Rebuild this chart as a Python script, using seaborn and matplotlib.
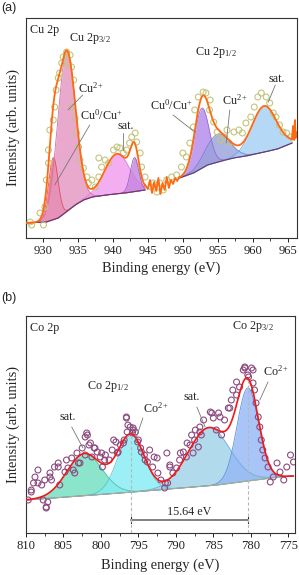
import numpy as np
import pandas as pd
import matplotlib
matplotlib.use("Agg")
import matplotlib.pyplot as plt
import seaborn as sns

# ---------------- data: panel (a) Cu 2p ----------------
cu_pts_x = [928.2, 928.4, 929.6, 930.1, 930.3, 930.5, 930.8, 930.8, 931.0, 931.5, 931.7, 931.9,
            932.2, 932.4, 932.7, 932.9, 933.4, 933.6, 933.9, 934.1, 934.1, 934.4, 934.6, 934.8,
            935.1, 935.3, 935.8, 936.3, 936.5, 937.0, 937.5, 938.0, 938.0, 938.4, 938.9, 939.4,
            940.1, 940.6, 941.0, 941.5, 942.0, 942.4, 942.7, 943.2, 943.4, 943.9, 944.1, 944.6,
            945.5, 945.8, 946.3, 946.7, 947.2, 947.7, 948.4, 949.1, 949.8, 950.0, 950.5, 951.0,
            951.5, 951.7, 952.2, 952.9, 953.3, 953.8, 953.9, 954.4, 954.9, 955.4, 955.9, 956.3,
            956.6, 957.3, 958.0, 958.5, 959.0, 959.7, 960.2, 960.7, 961.2, 961.9, 962.4, 962.9,
            963.3, 963.8, 964.3, 964.8, 965.5]
cu_pts_y = [16, 13, 25, 13, 31, 58, 75, 88, 108, 118, 131, 148,
            160, 165, 175, 181, 186, 175, 183, 171, 131, 158, 120, 105,
            91, 78, 70, 61, 55, 58, 51, 61, 80, 71, 78, 75,
            88, 91, 90, 85, 88, 95, 101, 105, 96, 85, 71, 61,
            51, 55, 46, 55, 48, 58, 61, 63, 71, 85, 81, 95,
            111, 128, 141, 146, 145, 128, 138, 116, 106, 98, 101, 108,
            95, 106, 108, 105, 115, 121, 131, 141, 145, 141, 135, 125,
            121, 113, 106, 105, 101]

cu_labels = ["Cu0/Cu+ 3/2", "Cu2+ 3/2", "sat broad", "sat narrow",
             "Cu0/Cu+ 1/2", "Cu2+ 1/2", "sat 1/2"]
cu_centers = [931.5, 933.4, 940.6, 943.1, 952.7, 955.0, 961.6]
cu_heights = [62, 160, 40, 34, 60, 28, 46]
cu_fwhm = [1.6, 3.0, 4.2, 1.4, 2.4, 4.0, 4.2]
cu_region = [0, 0, 0, 0, 1, 1, 1]

cu_bg1_x = [927.6, 930.5, 932.2, 933.5, 934.6, 935.8, 937.0, 939.0, 941.7, 944.6]
cu_bg1_y = [15, 16, 20, 27, 33, 38, 41, 43, 45, 48]
cu_bg2_x = [949.5, 951.5, 953.5, 955.5, 957.2, 959.0, 961.0, 963.5, 965.6]
cu_bg2_y = [60, 65, 73, 77, 80, 82, 85, 89, 95]

cu_gap_x = [944.6, 945.0, 945.3, 945.6, 945.9, 946.2, 946.5, 946.8, 947.1, 947.4, 947.7,
            948.0, 948.3, 948.6, 948.9, 949.2, 949.5]
cu_gap_y = [53, 49, 58, 45, 56, 47, 60, 44, 55, 48, 61, 50, 58, 54, 60, 57, 61]
cu_end_x = [965.6, 965.75, 965.9, 966.0, 966.1, 966.3]
cu_end_y = [102, 112, 98, 118, 100, 106]

# ---------------- data: panel (b) Co 2p ----------------
co_pts_x = [809.7, 809.3, 809.0, 808.8, 808.4, 807.9, 807.5, 807.3, 807.1, 806.8, 806.6, 806.2,
            805.7, 805.5, 804.8, 804.6, 804.4, 803.9, 803.7, 803.2, 802.8, 802.5, 802.1, 801.8,
            801.6, 801.2, 800.9, 800.5, 800.1, 799.8, 799.4, 798.9, 798.5, 798.0, 797.8, 797.4,
            796.9, 796.5, 795.8, 795.4, 795.1, 794.7, 794.2, 793.8, 793.5, 793.1, 792.9, 792.4,
            792.0, 791.5, 791.1, 790.8, 790.4, 789.9, 789.5, 789.0, 788.6, 788.1, 787.7, 787.5,
            787.0, 786.6,
            792.5, 791.2, 790.8, 791.4, 789.4, 788.5, 787.9, 787.4, 786.8, 786.3, 785.4, 785.0,
            784.6, 783.9, 784.3, 783.5, 783.0, 782.6, 782.4, 781.9, 781.5, 781.0, 780.8, 780.4,
            779.9, 779.7, 779.5, 779.3, 779.0, 778.8, 778.6, 778.4, 778.1, 777.7, 777.4, 777.0,
            776.5, 776.1, 775.6, 775.2, 774.7, 774.3,
            796.6, 796.4, 795.7, 801.9, 786.8, 785.2, 784.1, 782.8, 781.9, 780.8, 779.7, 780.3,
            802.1, 801.4, 800.8, 799.9, 799.5, 798.3, 797.7, 797.0, 796.6, 796.1, 795.7, 795.0,
            794.6, 794.1, 803.0, 803.5, 805.7, 806.8, 808.4, 809.3, 807.3, 807.7]
co_pts_y = [33, 41, 50, 56, 63, 48, 53, 25, 31, 60, 53, 66,
            70, 48, 61, 73, 65, 75, 63, 80, 70, 85, 78, 98,
            88, 76, 85, 81, 76, 66, 78, 73, 83, 91, 80, 88,
            93, 101, 100, 101, 91, 85, 78, 71, 83, 66, 76, 60,
            53, 45, 50, 68, 60, 65, 73, 81, 76, 88, 80, 93,
            86, 98,
            75, 80, 66, 50, 80, 90, 98, 103, 106, 113, 121, 115,
            103, 98, 120, 113, 125, 133, 143, 151, 146, 163, 166, 158,
            165, 150, 143, 130, 116, 106, 93, 83, 75, 66, 51, 56,
            70, 61, 53, 66, 78, 71,
            116, 108, 105, 100, 101, 120, 116, 125, 138, 165, 163, 156,
            96, 90, 85, 80, 73, 93, 81, 90, 115, 106, 103, 93,
            81, 73, 70, 60, 66, 56, 50, 43, 26, 33]

co_labels = ["sat 1/2", "Co2+ 1/2", "sat 3/2", "Co2+ 3/2"]
co_centers = [802.2, 796.0, 785.6, 780.4]
co_heights = [42, 57, 58, 93]
co_fwhm = [5.5, 4.2, 6.5, 3.4]

co_bg_x = [774.3, 776.3, 784.5, 795.7, 810.0]
co_bg_y = [57, 56, 48, 41, 33]

co_peak_marks = [796.04, 780.40]
co_split_text = "15.64 eV"

# ---------------- style ----------------
sns.set_theme(style="white")
plt.rcParams["font.family"] = ["Liberation Serif", "DejaVu Serif"]
plt.rcParams["mathtext.fontset"] = "custom"
plt.rcParams["mathtext.rm"] = "Liberation Serif"
plt.rcParams["mathtext.it"] = "Liberation Serif:italic"
plt.rcParams["axes.edgecolor"] = "#333333"
plt.rcParams["axes.linewidth"] = 0.8

cu_cols = ["#f26470", "#e496c2", "#f09cee", "#c486e0", "#b48aec", "#98a2dc", "#a6d0f6"]
cu_edge = ["#e0505e", "#d070b0", "#d880d8", "#a060c8", "#9a6ad8", "#7880c8", "#70a8e0"]
co_cols = ["#70e0c0", "#86ecf2", "#a0d4ea", "#96b8f5"]
co_edge = ["#50c0a8", "#50c8d8", "#6ab0d8", "#5a8ee0"]

def gauss(x, c, h, w):
    return h * np.exp(-4 * np.log(2) * (x - c) ** 2 / w ** 2)

fig = plt.figure(figsize=(2.99, 5.75), dpi=100)
axA = fig.add_axes([26 / 299, 337 / 575, 271 / 299, 220 / 575])
axB = fig.add_axes([26 / 299, 42 / 575, 269 / 299, 217 / 575])

# ---------------- panel (a) ----------------
grids = [np.linspace(cu_bg1_x[0], cu_bg1_x[-1], 500), np.linspace(cu_bg2_x[0], cu_bg2_x[-1], 500)]
bgs = [np.interp(grids[0], cu_bg1_x, cu_bg1_y), np.interp(grids[1], cu_bg2_x, cu_bg2_y)]
envs = [bgs[0].copy(), bgs[1].copy()]
for i in range(len(cu_centers)):
    r = cu_region[i]
    g = gauss(grids[r], cu_centers[i], cu_heights[i], cu_fwhm[i])
    envs[r] += g
    axA.fill_between(grids[r], bgs[r], bgs[r] + g, color=cu_cols[i], alpha=0.82, lw=0, zorder=2)
    axA.plot(grids[r], bgs[r] + g, color=cu_edge[i], lw=0.6, zorder=2.5)
for r in range(2):
    sns.lineplot(x=grids[r], y=bgs[r], ax=axA, color="#6a3a6a", lw=0.8, sort=False, estimator=None, zorder=3)

sns.scatterplot(x=cu_pts_x, y=cu_pts_y, ax=axA, s=18, facecolor="none", edgecolor="#c4c47e",
                linewidth=0.8, zorder=4)
env_x = np.concatenate([grids[0], cu_gap_x, grids[1], cu_end_x])
env_y = np.concatenate([envs[0], cu_gap_y, envs[1], cu_end_y])
sns.lineplot(x=env_x, y=env_y, ax=axA, color="#ff6a10", lw=1.3, sort=False, estimator=None, zorder=5)

axA.set_xlim(927.6, 966.3)
axA.set_ylim(0, 220)

lead = dict(color="#777777", lw=0.6, zorder=6)
fs = 8.7
axA.text(0.015, 0.945, "Cu 2p", transform=axA.transAxes, fontsize=fs, ha="left", va="center")
axA.text(933.7, 199, "Cu 2p$_{3/2}$", fontsize=fs, ha="left", va="center")
axA.text(951.7, 185, "Cu 2p$_{1/2}$", fontsize=fs, ha="left", va="center")
axA.text(935.0, 150, "Cu$^{2+}$", fontsize=fs, ha="left", va="center")
axA.plot([935.7, 933.6], [143, 128], **lead)
axA.text(935.3, 123, "Cu$^{0}$/Cu$^{+}$", fontsize=fs, ha="left", va="center")
axA.plot([936.7, 931.7], [113, 53], **lead)
axA.text(940.7, 112, "sat.", fontsize=fs, ha="left", va="center")
axA.plot([941.5, 941.5], [105, 88], **lead)
axA.text(945.3, 133, "Cu$^{0}$/Cu$^{+}$", fontsize=fs, ha="left", va="center")
axA.plot([948.6, 951.7], [123, 106], **lead)
axA.text(955.6, 138, "Cu$^{2+}$", fontsize=fs, ha="left", va="center")
axA.plot([956.7, 956.2], [128, 95], **lead)
axA.text(962.2, 159, "sat.", fontsize=fs, ha="left", va="center")
axA.plot([963.2, 962.2], [153, 136], **lead)

# ---------------- panel (b) ----------------
gx = np.linspace(co_bg_x[0], co_bg_x[-1], 600)
gbg = np.interp(gx, co_bg_x, co_bg_y)
genv = gbg.copy()
for i in range(len(co_centers)):
    g = gauss(gx, co_centers[i], co_heights[i], co_fwhm[i])
    genv += g
    axB.fill_between(gx, gbg, gbg + g, color=co_cols[i], alpha=0.82, lw=0, zorder=2)
    axB.plot(gx, gbg + g, color=co_edge[i], lw=0.6, zorder=2.5)
sns.lineplot(x=gx, y=gbg, ax=axB, color="#b0aa90", lw=0.8, sort=False, estimator=None, zorder=3)

sns.scatterplot(x=co_pts_x, y=co_pts_y, ax=axB, s=18, facecolor="none", edgecolor="#8c4a7e",
                linewidth=0.8, zorder=4)
sns.lineplot(x=gx, y=genv, ax=axB, color="#f01818", lw=1.2, sort=False, estimator=None, zorder=5)

for xm in co_peak_marks:
    top = np.interp(xm, gx, genv)
    axB.plot([xm, xm], [0, top], color="#b8b8b8", lw=0.8, ls=(0, (3, 2)), zorder=4.5)
axB.annotate("", xy=(co_peak_marks[0], 13), xytext=(co_peak_marks[1], 13),
             arrowprops=dict(arrowstyle="|-|", color="#222222", lw=0.8,
                             mutation_scale=2.5, shrinkA=0, shrinkB=0))
axB.text(np.mean(co_peak_marks), 21, co_split_text, fontsize=fs, ha="center", va="center")

axB.set_xlim(810, 774.1)
axB.set_ylim(0, 217)

axB.text(0.015, 0.945, "Co 2p", transform=axB.transAxes, fontsize=fs, ha="left", va="center")
axB.text(782.5, 207, "Co 2p$_{3/2}$", fontsize=fs, ha="left", va="center")
axB.text(801.9, 147, "Co 2p$_{1/2}$", fontsize=fs, ha="left", va="center")
axB.text(805.5, 116, "sat.", fontsize=fs, ha="left", va="center")
axB.plot([803.9, 802.4], [106, 85], **lead)
axB.text(794.4, 125, "Co$^{2+}$", fontsize=fs, ha="left", va="center")
axB.plot([794.4, 795.4], [115, 93], **lead)
axB.text(789.0, 136, "sat.", fontsize=fs, ha="left", va="center")
axB.plot([787.2, 786.1], [126, 106], **lead)
axB.text(778.4, 162, "Co$^{2+}$", fontsize=fs, ha="left", va="center")
axB.plot([777.7, 778.8], [151, 133], **lead)

# ---------------- axes cosmetics ----------------
for ax, major in [(axA, np.arange(930, 966, 5)), (axB, np.arange(775, 811, 5))]:
    ax.set_xticks(major)
    ax.set_xticklabels([str(v) for v in major])
    ax.xaxis.set_minor_locator(matplotlib.ticker.MultipleLocator(2.5))
    ax.set_yticks([])
    ax.tick_params(axis="x", which="major", direction="out", length=3, width=0.7,
                   labelsize=9.1, pad=2, bottom=True, colors="#222222")
    ax.tick_params(axis="x", which="minor", direction="out", length=2, width=0.6, bottom=True,
                   colors="#222222")
    ax.set_ylabel("Intensity (arb. units)", fontsize=10.4, labelpad=4)
    for s in ax.spines.values():
        s.set_visible(True)
        s.set_color("#333333")
        s.set_linewidth(0.8)
axA.set_xlabel("Binding energy (eV)", fontsize=10.4, labelpad=3)
axB.set_xlabel("Binding energy (eV)", fontsize=10.4, labelpad=5)

fig.text(1 / 299, 1 - 8 / 575, "(a)", fontsize=9, family="Liberation Sans", ha="left", va="center")
fig.text(1 / 299, 1 - 298 / 575, "(b)", fontsize=9, family="Liberation Sans", ha="left", va="center")

fig.savefig("out.png", dpi=100)
